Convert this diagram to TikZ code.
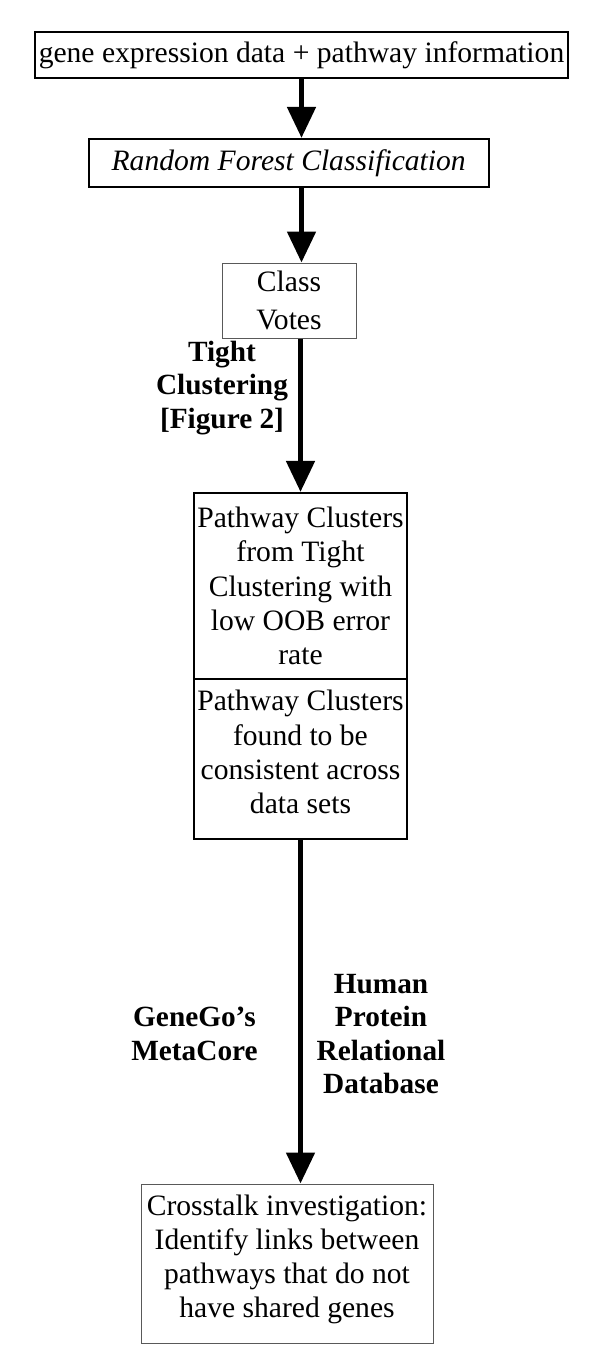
\documentclass[tikz,border=0pt]{standalone}
\usepackage{fontspec}
\setmainfont{Liberation Serif}
\usetikzlibrary{arrows.meta}
\begin{document}
\begin{tikzpicture}[x=1pt,y=-1pt,
  box/.style={draw, line width=2.2pt, inner sep=0pt, align=center, font=\fontsize{29.6}{34.2}\selectfont},
  thinbox/.style={draw=black!65, line width=1pt, inner sep=0pt, align=center, font=\fontsize{29.6}{34.2}\selectfont},
  flow/.style={line width=5pt, -{Triangle[width=28pt,length=31pt]}},
  lbl/.style={font=\fontsize{29.3}{33.5}\selectfont\bfseries, align=center, inner sep=0pt}]
\useasboundingbox (0,0) rectangle (600,1358);
\node[box, minimum width=533pt, minimum height=46pt] (data) at (301.5,55) {gene expression data + pathway information};
\node[box, minimum width=400pt, minimum height=48pt] (rf) at (288.7,163) {\itshape Random Forest Classification};
\node[thinbox, minimum width=134pt, minimum height=75pt, font=\fontsize{29.6}{37.5}\selectfont] (cv) at (289,300.5) {Class\\Votes};
\node[box, minimum width=213pt, minimum height=186pt] (p1) at (300.5,586) {Pathway Clusters\\from Tight\\Clustering with\\low OOB error\\rate};
\node[box, minimum width=213pt, minimum height=160pt] (p2) at (300.5,759) {Pathway Clusters\\found to be\\consistent across\\data sets\\[-20pt]\mbox{}};
\node[thinbox, minimum width=292pt, minimum height=159pt] (bot) at (287,1263.5) {Crosstalk investigation:\\Identify links between\\pathways that do not\\have shared genes\\[-20pt]\mbox{}};
\draw[flow] (data.south) -- (data.south |- rf.north);
\draw[flow] (data.south |- rf.south) -- (data.south |- cv.north);
\draw[flow] (p1.north |- cv.south) -- (p1.north);
\draw[flow] (p2.south) -- (p2.south |- bot.north);
\node[lbl] (tc) at (222,388) {Tight\\Clustering\\{[}Figure 2{]}};
\node[lbl] (gg) at (194.5,1034) {GeneGo’s\\MetaCore};
\node[lbl] (hp) at (381,1034) {Human\\Protein\\Relational\\Database};
\end{tikzpicture}
\end{document}
